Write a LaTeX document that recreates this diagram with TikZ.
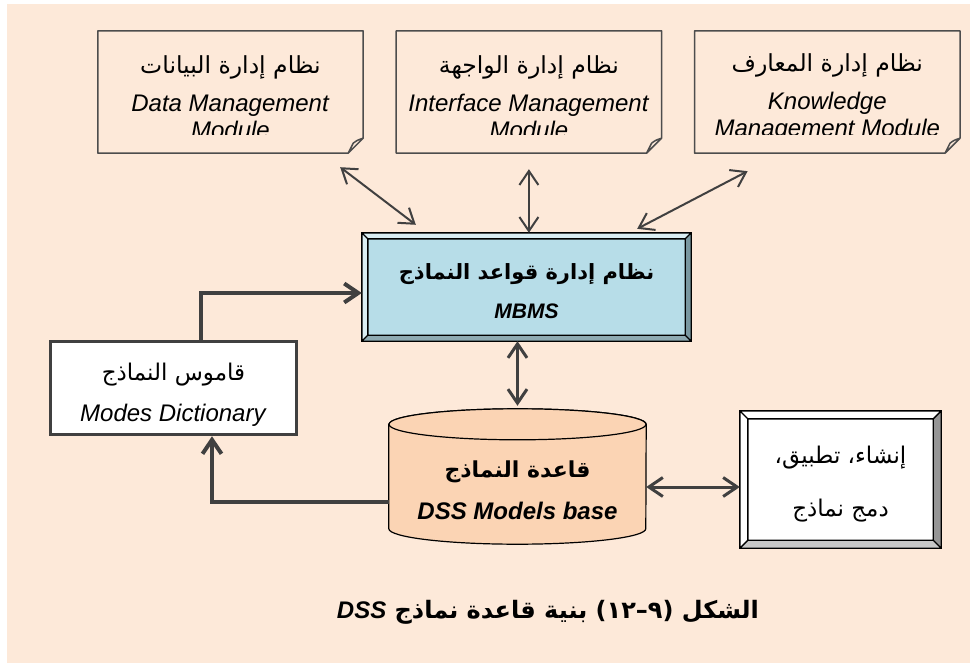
\documentclass[tikz,border=0pt]{standalone}
\usepackage{fontspec}
\setmainfont{Liberation Sans}
\newfontfamily\arabicfont[Script=Arabic]{DejaVu Sans}
\TeXXeTstate=1
\usepackage{xcolor}
\usetikzlibrary{arrows.meta,positioning,calc,backgrounds}
\definecolor{pageCream}{RGB}{253,233,217}
\definecolor{lineGray}{RGB}{77,77,77}
\definecolor{arrowGray}{RGB}{64,64,64}
\definecolor{mbmsBlue}{RGB}{183,221,232}
\definecolor{mbmsLight}{RGB}{218,238,243}
\definecolor{mbmsDark}{RGB}{122,152,161}
\definecolor{mbmsShade}{RGB}{142,170,178}
\definecolor{cylOrange}{RGB}{251,212,180}
\definecolor{bevelDark}{RGB}{150,150,150}
\definecolor{bevelShade}{RGB}{200,200,200}

\begin{document}
\begin{tikzpicture}[x=1pt,y=-1pt,>={Straight Barb[length=14pt,width=19pt]},
  every node/.style={font=\fontsize{24}{25}\selectfont,align=center,inner sep=0pt},
  note/.style={minimum width=265pt,minimum height=122pt,font=\fontsize{24}{27}\selectfont},
  noteline/.style={draw=lineGray,line width=1.5pt,line join=round},
  bevelbox/.style={fill=#1,minimum width=329pt,minimum height=108pt},
  dictbox/.style={fill=white,draw=arrowGray,line width=3.5pt,minimum width=246pt,minimum height=93pt},
  cylbody/.style={minimum width=257pt,minimum height=131pt},
  cylline/.style={draw=black,line width=1.2pt,fill=cylOrange},
  darkline/.style={draw=black,line width=1.4pt},
  link/.style={<->,draw=arrowGray,line width=2pt},
  wide link/.style={<->,draw=arrowGray,line width=3pt},
  feed/.style={->,draw=arrowGray,line width=4pt}]
\useasboundingbox (0,0) rectangle (977,666);
\begin{scope}[on background layer]
  \fill[pageCream] (7,4) rectangle (970,663);
\end{scope}

% three modules on top (text cut off at the bottom)
\begin{scope}
  \clip (0,0) rectangle (977,135);
  \node[note] (dmm) at (230.5,92) {\rule{0pt}{28pt}{\fontsize{23.5}{25}\arabicfont\beginR نظام إدارة البيانات\endR}\\[11pt]\textit{Data Management}\\\textit{Module}};
  \node[note,right=33pt of dmm] (imm) {\rule{0pt}{28pt}{\fontsize{23.5}{25}\arabicfont\beginR نظام إدارة الواجهة\endR}\\[11pt]\textit{Interface Management}\\\textit{Module}};
  \node[note,right=33pt of imm] (kmm) {\rule{0pt}{28pt}{\fontsize{23.5}{25}\arabicfont\beginR نظام إدارة المعارف\endR}\\[11pt]\textit{Knowledge}\\\textit{Management Module}};
\end{scope}
\foreach \n in {dmm,imm,kmm}
  \draw[noteline] (\n.north west) -- (\n.north east) -- ($(\n.south east)+(0,-15)$) -- ($(\n.south east)+(-15,0)$) -- (\n.south west) -- cycle
    ($(\n.south east)+(0,-15)$) .. controls ($(\n.south east)+(-6,-13)$) .. ($(\n.south east)+(-10,-10)$) -- ($(\n.south east)+(-15,0)$);

% model base management system
\node[bevelbox=mbmsBlue] (mbms) at (526.5,287) {\rule{0pt}{25pt}{\fontsize{21}{25}\arabicfont\bfseries\beginR نظام إدارة قواعد النماذج\endR}\\[14pt]{\fontsize{21}{25}\selectfont\bfseries\itshape MBMS}};
\node[dictbox] (md) at (173.5,388) {\rule{0pt}{30pt}{\fontsize{23}{25}\arabicfont\beginR قاموس النماذج\endR}\\[16pt]\textit{Modes Dictionary}};
\node[cylbody] (mb) at (517.5,490) {{\fontsize{22}{25}\arabicfont\bfseries\beginR قاعدة النماذج\endR}\\[17pt]{\bfseries\itshape DSS Models base}};
\node[bevelbox=white,minimum width=201pt,minimum height=137pt] (cr) at (840.5,479.5) {\rule{0pt}{26pt}{\fontsize{23}{25}\arabicfont\beginR إنشاء، تطبيق،\endR}\\[28pt]{\fontsize{23}{25}\arabicfont\beginR دمج نماذج\endR}};
\node (cap) at (548,612) {{\fontsize{24}{28}\selectfont\arabicfont\bfseries\beginR الشكل \beginL(٩–١٢)\endL{} بنية قاعدة نماذج {\normalfont\bfseries\itshape DSS}\endR}};

% cylinder outline behind its text
\begin{scope}[on background layer]
  \draw[cylline] (mb.north west) -- ($(mb.south west)+(0,-27)$) arc[start angle=180,end angle=0,x radius=128.5,y radius=15.5]
    -- (mb.north east) arc[start angle=0,end angle=-180,x radius=128.5,y radius=15.5] -- cycle;
  \draw[cylline] (mb.north) ellipse[x radius=128.5,y radius=15.5];
\end{scope}

% bevelled frames
\foreach \n/\w/\lt/\rt/\bt in {mbms/6/mbmsLight/mbmsDark/mbmsShade,cr/8/white/bevelDark/bevelShade}{
  \fill[\lt] (\n.north west) -- (\n.north east) -- ($(\n.north east)+(-\w,\w)$) -- ($(\n.north west)+(\w,\w)$) -- ($(\n.south west)+(\w,-\w)$) -- (\n.south west) -- cycle;
  \fill[\rt] (\n.north east) -- (\n.south east) -- ($(\n.south east)+(-\w,-\w)$) -- ($(\n.north east)+(-\w,\w)$) -- cycle;
  \fill[\bt] (\n.south west) -- (\n.south east) -- ($(\n.south east)+(-\w,-\w)$) -- ($(\n.south west)+(\w,-\w)$) -- cycle;
  \draw[darkline] (\n.north west) rectangle (\n.south east)
    ($(\n.north west)+(\w,\w)$) rectangle ($(\n.south east)+(-\w,-\w)$)
    (\n.north west) -- ++(\w,\w) (\n.north east) -- ++(-\w,\w)
    (\n.south west) -- ++(\w,-\w) (\n.south east) -- ++(-\w,-\w);
}

% connectors
\draw[link] ($(dmm.south east)+(-23,14)$) -- ($(mbms.north west)+(54,-8)$);
\draw[link] ([yshift=-16pt]imm.south) -- (imm.south |- mbms.north);
\draw[link] ($(kmm.south west)+(53,18)$) -- ($(mbms.north east)+(-54,-4)$);
\draw[wide link] (mb.north |- mbms.south) -- ([yshift=18.5pt]mb.north);
\draw[wide link] ([yshift=3pt]mb.east) -- ([yshift=3pt]mb.east -| cr.west);
\draw[feed] ([xshift=27.5pt]md.north) |- ([yshift=-6pt]mbms.west);
\draw[feed] ([yshift=-12pt]mb.west) -| ([xshift=38.5pt]md.south);
\end{tikzpicture}
\end{document}
